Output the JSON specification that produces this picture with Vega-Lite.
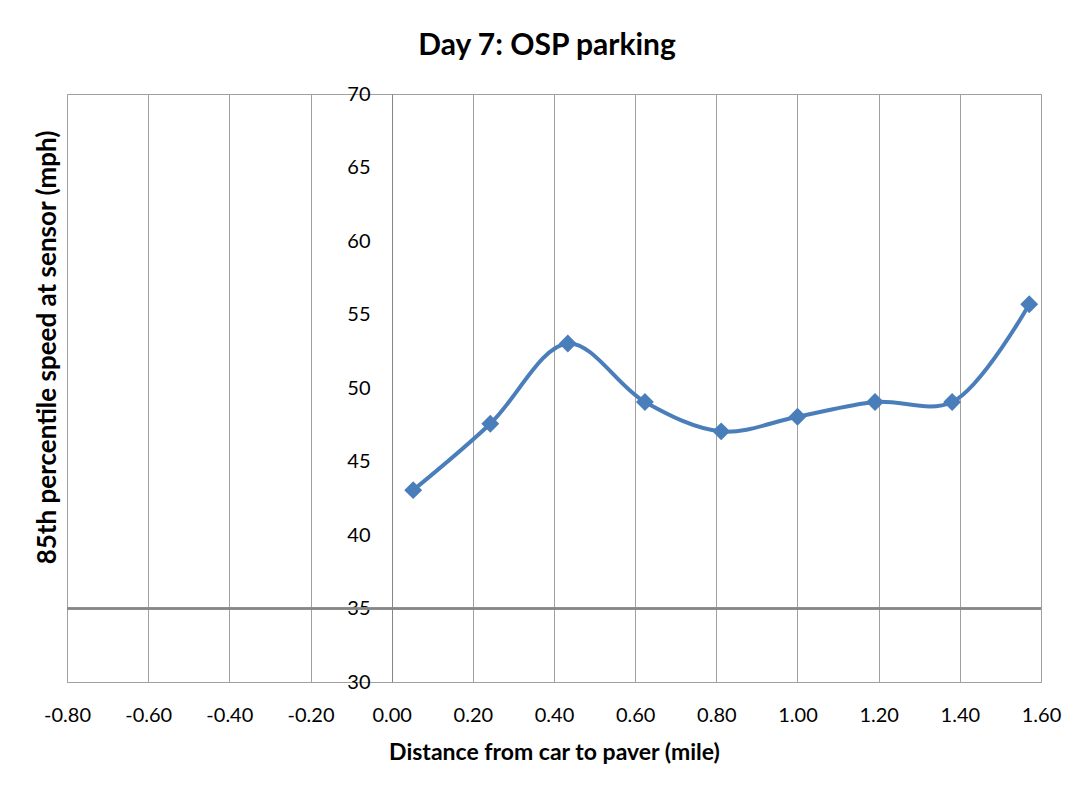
{
  "$schema": "https://vega.github.io/schema/vega-lite/v6.json",
  "width": 974,
  "height": 588,
  "autosize": {"type": "none"},
  "padding": {"left": 67, "top": 94, "right": 49, "bottom": 115},
  "background": "white",
  "title": {
    "text": "Day 7: OSP parking",
    "font": "Lato",
    "fontSize": 30,
    "fontWeight": "bold",
    "color": "#000000",
    "anchor": "middle",
    "dx": -7,
    "offset": 23
  },
  "config": {
    "view": {"stroke": "#a0a0a0", "strokeWidth": 1},
    "axis": {
      "labelFont": "Lato",
      "titleFont": "Lato",
      "labelColor": "#000000",
      "titleColor": "#000000",
      "gridColor": "#a0a0a0",
      "gridOpacity": 1,
      "gridWidth": 1,
      "ticks": false
    }
  },
  "data": {
    "values": [
      {"distance": 0.053, "speed": 43.05},
      {"distance": 0.243, "speed": 47.57},
      {"distance": 0.434, "speed": 53.03},
      {"distance": 0.624, "speed": 49.05},
      {"distance": 0.812, "speed": 47.05},
      {"distance": 1.000, "speed": 48.04},
      {"distance": 1.191, "speed": 49.05},
      {"distance": 1.381, "speed": 49.05},
      {"distance": 1.571, "speed": 55.7}
    ]
  },
  "layer": [
    {
      "mark": {"type": "rule", "color": "#868686", "strokeWidth": 1.5},
      "encoding": {"y": {"datum": 35, "type": "quantitative"}}
    },
    {
      "mark": {"type": "line", "color": "#4a7ebb", "strokeWidth": 4, "interpolate": "catmull-rom"},
      "encoding": {
        "x": {
          "field": "distance",
          "type": "quantitative",
          "scale": {"domain": [-0.8, 1.6], "nice": false, "zero": false},
          "axis": {
            "title": "Distance from car to paver (mile)",
            "values": [-0.8, -0.6, -0.4, -0.2, 0, 0.2, 0.4, 0.6, 0.8, 1.0, 1.2, 1.4, 1.6],
            "labelExpr": "replace(format(datum.value, '.2f'), '\u2212', '-')",
            "labelFontSize": 20,
            "labelPadding": 23,
            "labelBaseline": "top",
            "labelFlush": false,
            "labelOverlap": false,
            "titleFontSize": 23,
            "titleFontWeight": "bold",
            "titleY": 70,
            "titleBaseline": "middle",
            "domain": false
          }
        },
        "y": {
          "field": "speed",
          "type": "quantitative",
          "scale": {"domain": [30, 70], "nice": false, "zero": false},
          "axis": {
            "title": "85th percentile speed at sensor (mph)",
            "values": [30, 35, 40, 45, 50, 55, 60, 65, 70],
            "labelFontSize": 20,
            "labelPadding": 22,
            "labelFlush": false,
            "labelOverlap": false,
            "offset": -325,
            "domain": true,
            "domainColor": "#868686",
            "titleFontSize": 26,
            "titleFontWeight": "bold",
            "titleAngle": -90,
            "titleX": -345,
            "titleY": 253,
            "titleAlign": "center",
            "titleBaseline": "middle"
          }
        }
      }
    },
    {
      "mark": {"type": "point", "shape": "diamond", "filled": true, "color": "#4a7ebb", "size": 320, "opacity": 1},
      "encoding": {
        "x": {"field": "distance", "type": "quantitative"},
        "y": {"field": "speed", "type": "quantitative"}
      }
    }
  ]
}
